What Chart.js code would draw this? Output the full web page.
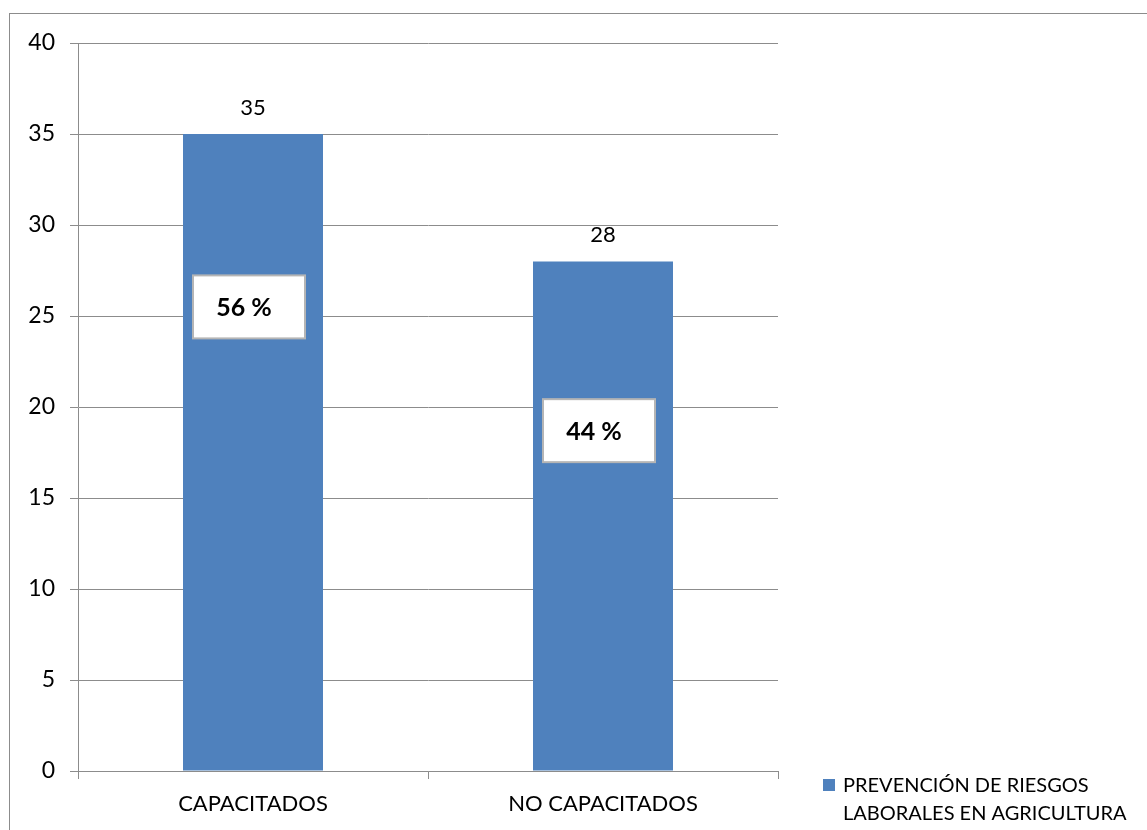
<!DOCTYPE html>
<html>
<head>
<meta charset="utf-8">
<script src="https://cdn.jsdelivr.net/npm/chart.js@4.4.1/dist/chart.umd.min.js"></script>
<style>
  html, body { margin: 0; padding: 0; background: #fff; }
  #wrap { position: relative; width: 1147px; height: 830px; overflow: hidden; }
  #frame { position: absolute; left: 9px; top: 13px; width: 1160px; height: 840px; border: 1px solid #8c8c8c; box-sizing: border-box; }
  canvas { position: absolute; left: 0; top: 0; }
</style>
</head>
<body>
<div id="wrap">
  <div id="frame"></div>
  <canvas id="c" width="1147" height="830"></canvas>
</div>
<script>
// Training in occupational risk prevention among farm workers
const categories = ['CAPACITADOS', 'NO CAPACITADOS'];
const seriesName = 'PREVENCIÓN DE RIESGOS LABORALES EN AGRICULTURA';
const seriesValues = [35, 28];
const legendLines = ['PREVENCIÓN DE RIESGOS', 'LABORALES EN AGRICULTURA'];
// vertical placement (in axis units) of the percentage boxes
const percentBoxAt = [25.5, 18.7];

const FONT = 'Lato, "Open Sans", sans-serif';
const BAR = '#4f81bd';
const GRID = '#8c8c8c';

const total = seriesValues.reduce((a, b) => a + b, 0);
const percents = seriesValues.map(v => Math.round(v / total * 100));

const labelsPlugin = {
  id: 'barLabels',
  afterDatasetsDraw(chart) {
    const ctx = chart.ctx;
    const meta = chart.getDatasetMeta(0);
    const yScale = chart.scales.y;
    ctx.save();
    meta.data.forEach((bar, i) => {
      // value above the bar
      ctx.fillStyle = '#000';
      ctx.font = '22px ' + FONT;
      ctx.textAlign = 'center';
      ctx.textBaseline = 'middle';
      ctx.fillText(String(seriesValues[i]), bar.x, bar.y - 26);
      // percentage box inside the bar
      const cy = yScale.getPixelForValue(percentBoxAt[i]);
      const w = 112, h = 63;
      const cx = bar.x - 4;
      ctx.fillStyle = '#fff';
      ctx.fillRect(cx - w / 2, cy - h / 2, w, h);
      ctx.strokeStyle = '#b5b5b5';
      ctx.lineWidth = 2;
      ctx.strokeRect(cx - w / 2, cy - h / 2, w, h);
      ctx.fillStyle = '#000';
      ctx.font = 'bold 25px ' + FONT;
      ctx.fillText(percents[i] + ' %', cx - 5, cy + 1);
    });
    ctx.restore();
  }
};

const legendPlugin = {
  id: 'sideLegend',
  afterDraw(chart) {
    const ctx = chart.ctx;
    ctx.save();
    ctx.fillStyle = BAR;
    ctx.fillRect(823, 779, 12, 12);
    ctx.fillStyle = '#000';
    ctx.font = '20px ' + FONT;
    ctx.textAlign = 'left';
    ctx.textBaseline = 'middle';
    legendLines.forEach((t, i) => ctx.fillText(t, 843, 786 + i * 28));
    ctx.restore();
  }
};

new Chart(document.getElementById('c'), {
  type: 'bar',
  data: {
    labels: categories,
    datasets: [{
      label: seriesName,
      data: seriesValues,
      backgroundColor: BAR,
      borderWidth: 0,
      barPercentage: 0.4,
      categoryPercentage: 1.0
    }]
  },
  options: {
    responsive: false,
    animation: false,
    layout: { padding: { top: 43, right: 369, bottom: 0, left: 0 } },
    plugins: {
      legend: { display: false },
      tooltip: { enabled: false }
    },
    scales: {
      x: {
        offset: true,
        grid: { offset: true, drawOnChartArea: false, drawTicks: true, tickLength: 8, color: GRID, lineWidth: 1 },
        border: { color: GRID, width: 1 },
        ticks: { color: '#000', font: { family: FONT, size: 22 }, padding: 12 },
        afterFit(s) { s.height = 59; }
      },
      y: {
        min: 0, max: 40,
        ticks: { stepSize: 5, color: '#000', font: { family: FONT, size: 23 }, padding: 15 },
        grid: { color: GRID, lineWidth: 1, tickLength: 8 },
        border: { color: GRID, width: 1 },
        afterFit(s) { s.width = 78; }
      }
    }
  },
  plugins: [labelsPlugin, legendPlugin]
});
</script>
</body>
</html>
